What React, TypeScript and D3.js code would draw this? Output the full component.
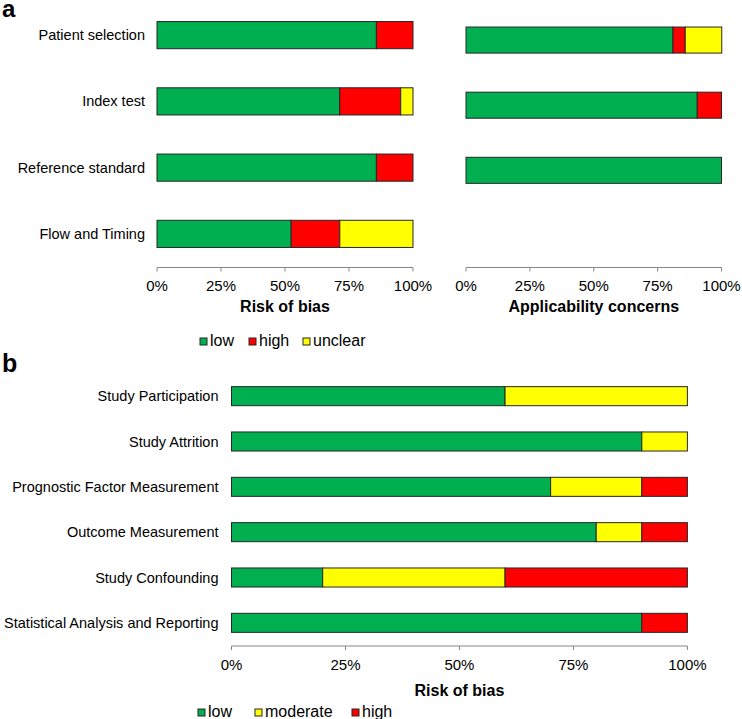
import React from "react";
import * as d3 from "d3";

// ---------- data ----------
const qCategories = ["Patient selection", "Index test", "Reference standard", "Flow and Timing"];
const robLow = [85.7, 71.4, 85.7, 52.4];
const robHigh = [14.3, 23.8, 14.3, 19.0];
const robUnclear = [0, 4.8, 0, 28.6];

const appCategories = ["Patient selection", "Index test", "Reference standard", "Flow and Timing"];
const appLow = [81.0, 90.5, 100, 0];
const appHigh = [4.8, 9.5, 0, 0];
const appUnclear = [14.3, 0, 0, 0];

const qLegend = ["low", "high", "unclear"];

const bCategories = [
  "Study Participation",
  "Study Attrition",
  "Prognostic Factor Measurement",
  "Outcome Measurement",
  "Study Confounding",
  "Statistical Analysis and Reporting",
];
const bLow = [60, 90, 70, 80, 20, 90];
const bModerate = [40, 10, 20, 10, 40, 0];
const bHigh = [0, 0, 10, 10, 40, 10];
const bLegend = ["low", "moderate", "high"];

const tickValues = [0, 25, 50, 75, 100];

// ---------- styles ----------
const GREEN = "#00B050";
const RED = "#FF0000";
const YELLOW = "#FFFF00";
const FONT = "'Liberation Sans', Arial, sans-serif";
const AXIS = "#868686";
const EDGE = "#262626";

type Seg = { key: string; color: string; values: number[] };

function StackedBars({ cats, segs, x, y }: { cats: string[]; segs: Seg[]; x: d3.ScaleLinear<number, number>; y: d3.ScaleBand<string> }) {
  const out: React.ReactNode[] = [];
  cats.forEach((c, i) => {
    let acc = 0;
    segs.forEach((s) => {
      const v = s.values[i];
      if (v > 0) {
        out.push(
          <rect
            key={c + s.key}
            x={x(acc)}
            y={y(c)}
            width={x(acc + v) - x(acc)}
            height={y.bandwidth()}
            fill={s.color}
            stroke={EDGE}
            strokeWidth={1}
          />
        );
      }
      acc += v;
    });
  });
  return <g>{out}</g>;
}

function XAxis({ x, y0, labelDy }: { x: d3.ScaleLinear<number, number>; y0: number; labelDy: number }) {
  const [a, b] = x.range();
  return (
    <g>
      <line x1={a} x2={b} y1={y0} y2={y0} stroke={AXIS} strokeWidth={1} />
      {tickValues.map((t) => (
        <g key={t}>
          <line x1={x(t)} x2={x(t)} y1={y0} y2={y0 + 4} stroke={AXIS} strokeWidth={1} />
          <text x={x(t)} y={y0 + labelDy} textAnchor="middle" fontSize={15} fontFamily={FONT} fill="#000">
            {t}%
          </text>
        </g>
      ))}
    </g>
  );
}

function Legend({ items, colors, xs, y }: { items: string[]; colors: string[]; xs: number[]; y: number }) {
  return (
    <g>
      {items.map((it, i) => (
        <g key={it}>
          <rect x={xs[i]} y={y - 8} width={7} height={7} fill={colors[i]} stroke={EDGE} strokeWidth={1} />
          <text x={xs[i] + 10} y={y} fontSize={16} fontFamily={FONT} fill="#000">
            {it}
          </text>
        </g>
      ))}
    </g>
  );
}

export default function App() {
  // panel a, left
  const xL = d3.scaleLinear().domain([0, 100]).range([157, 413]);
  const yL = d3.scaleBand<string>().domain(qCategories).range([2, 267]).paddingInner(0.59).paddingOuter(0.295);
  // panel a, right
  const xR = d3.scaleLinear().domain([0, 100]).range([466, 721.5]);
  const yR = d3.scaleBand<string>().domain(appCategories).range([7.5, 268]).paddingInner(0.6).paddingOuter(0.3);
  // panel b
  const xB = d3.scaleLinear().domain([0, 100]).range([231.5, 687.4]);
  const yB = d3.scaleBand<string>().domain(bCategories).range([373.5, 645.5]).paddingInner(0.58).paddingOuter(0.29);

  const robSegs: Seg[] = [
    { key: "low", color: GREEN, values: robLow },
    { key: "high", color: RED, values: robHigh },
    { key: "unclear", color: YELLOW, values: robUnclear },
  ];
  const appSegs: Seg[] = [
    { key: "low", color: GREEN, values: appLow },
    { key: "high", color: RED, values: appHigh },
    { key: "unclear", color: YELLOW, values: appUnclear },
  ];
  const bSegs: Seg[] = [
    { key: "low", color: GREEN, values: bLow },
    { key: "moderate", color: YELLOW, values: bModerate },
    { key: "high", color: RED, values: bHigh },
  ];

  return (
    <svg width={742} height={719} style={{ position: "absolute", left: 0, top: 0, background: "#fff" }}>
      <rect x={0} y={0} width={742} height={719} fill="#fff" />
      {/* panel labels */}
      <text x={2} y={17} fontSize={24} fontWeight="bold" fontFamily={FONT} fill="#000">a</text>
      <text x={2} y={372} fontSize={25} fontWeight="bold" fontFamily={FONT} fill="#000">b</text>

      {/* panel a left */}
      {qCategories.map((c) => (
        <text key={c} x={145} y={(yL(c) as number) + yL.bandwidth() / 2 + 5} textAnchor="end" fontSize={14.5} fontFamily={FONT} fill="#000">
          {c}
        </text>
      ))}
      <StackedBars cats={qCategories} segs={robSegs} x={xL} y={yL} />
      <XAxis x={xL} y0={267.5} labelDy={23.5} />
      <text x={(157 + 413) / 2} y={312} textAnchor="middle" fontSize={16} fontWeight="bold" fontFamily={FONT} fill="#000">
        Risk of bias
      </text>
      <Legend items={qLegend} colors={[GREEN, RED, YELLOW]} xs={[200, 249, 303]} y={346} />

      {/* panel a right */}
      <StackedBars cats={appCategories} segs={appSegs} x={xR} y={yR} />
      <XAxis x={xR} y0={267.5} labelDy={23.5} />
      <text x={(466 + 721.5) / 2} y={312} textAnchor="middle" fontSize={16} fontWeight="bold" fontFamily={FONT} fill="#000">
        Applicability concerns
      </text>

      {/* panel b */}
      {bCategories.map((c) => (
        <text key={c} x={218.5} y={(yB(c) as number) + yB.bandwidth() / 2 + 5} textAnchor="end" fontSize={14.5} fontFamily={FONT} fill="#000">
          {c}
        </text>
      ))}
      <StackedBars cats={bCategories} segs={bSegs} x={xB} y={yB} />
      <XAxis x={xB} y0={646} labelDy={23.5} />
      <text x={(231.5 + 687.4) / 2} y={695.5} textAnchor="middle" fontSize={16} fontWeight="bold" fontFamily={FONT} fill="#000">
        Risk of bias
      </text>
      <Legend items={bLegend} colors={[GREEN, YELLOW, RED]} xs={[198, 255, 352]} y={717} />
    </svg>
  );
}
